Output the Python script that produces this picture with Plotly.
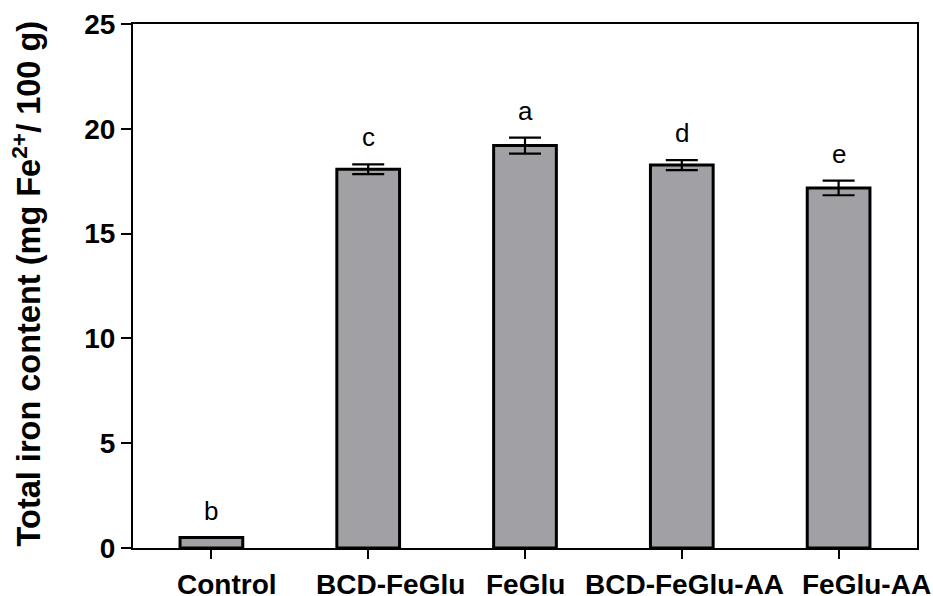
import plotly.graph_objects as go

categories = ["Control", "BCD-FeGlu", "FeGlu", "BCD-FeGlu-AA", "FeGlu-AA"]
values = [0.5, 18.07, 19.2, 18.27, 17.18]
errors = [0.0, 0.23, 0.38, 0.24, 0.35]
letters = ["b", "c", "a", "d", "e"]
y_ticks = [0, 5, 10, 15, 20, 25]
y_title = "Total iron content (mg Fe<sup>2+</sup>/ 100 g)"

# horizontal pixel offsets of the category labels (layout, as in the reference)
label_xshift = [16, 22, 0, 3, 28]

FONT = "Liberation Sans, Arial, sans-serif"

fig = go.Figure()
fig.add_trace(go.Bar(
    x=categories, y=values, width=0.4,
    marker=dict(color="#A1A0A5", line=dict(color="black", width=3)),
    error_y=dict(type="data", array=errors, visible=True, color="black",
                 thickness=2.2, width=16),
    showlegend=False,
))

for c, v, e, l in zip(categories, values, errors, letters):
    fig.add_annotation(x=c, y=v + e, text=l, showarrow=False, yanchor="middle",
                       yshift=27, font=dict(family=FONT, size=26, color="black"))

for c, s in zip(categories, label_xshift):
    fig.add_annotation(x=c, xref="x", y=0, yref="paper", text=c, showarrow=False,
                       xanchor="center", yanchor="top", xshift=s, yshift=-19,
                       font=dict(family=FONT, size=28, color="black", weight="bold"))

fig.add_annotation(xref="paper", yref="paper", x=(27 - 133) / 784, y=0.505,
                   text=y_title, textangle=-90, showarrow=False,
                   xanchor="center", yanchor="middle",
                   font=dict(family=FONT, size=32.5, color="black", weight="bold"))

fig.update_layout(
    width=933, height=596,
    margin=dict(l=133, r=16, t=24, b=48),
    plot_bgcolor="white", paper_bgcolor="white",
    xaxis=dict(
        range=[-0.5, 4.5], showline=True, linecolor="black", linewidth=2, mirror=True,
        ticks="outside", ticklen=9, tickwidth=2, tickcolor="black",
        showticklabels=False, showgrid=False, automargin=False,
    ),
    yaxis=dict(
        range=[0, 25], tickvals=y_ticks, showline=True, linecolor="black", linewidth=2,
        mirror=True, ticks="outside", ticklen=10, tickwidth=2, tickcolor="black",
        tickfont=dict(family=FONT, size=28, color="black", weight="bold"),
        showgrid=False, zeroline=False, automargin=False,
    ),
)

fig.write_html("out.html", config={"displayModeBar": False},
               post_script="document.body.style.margin='0';")
